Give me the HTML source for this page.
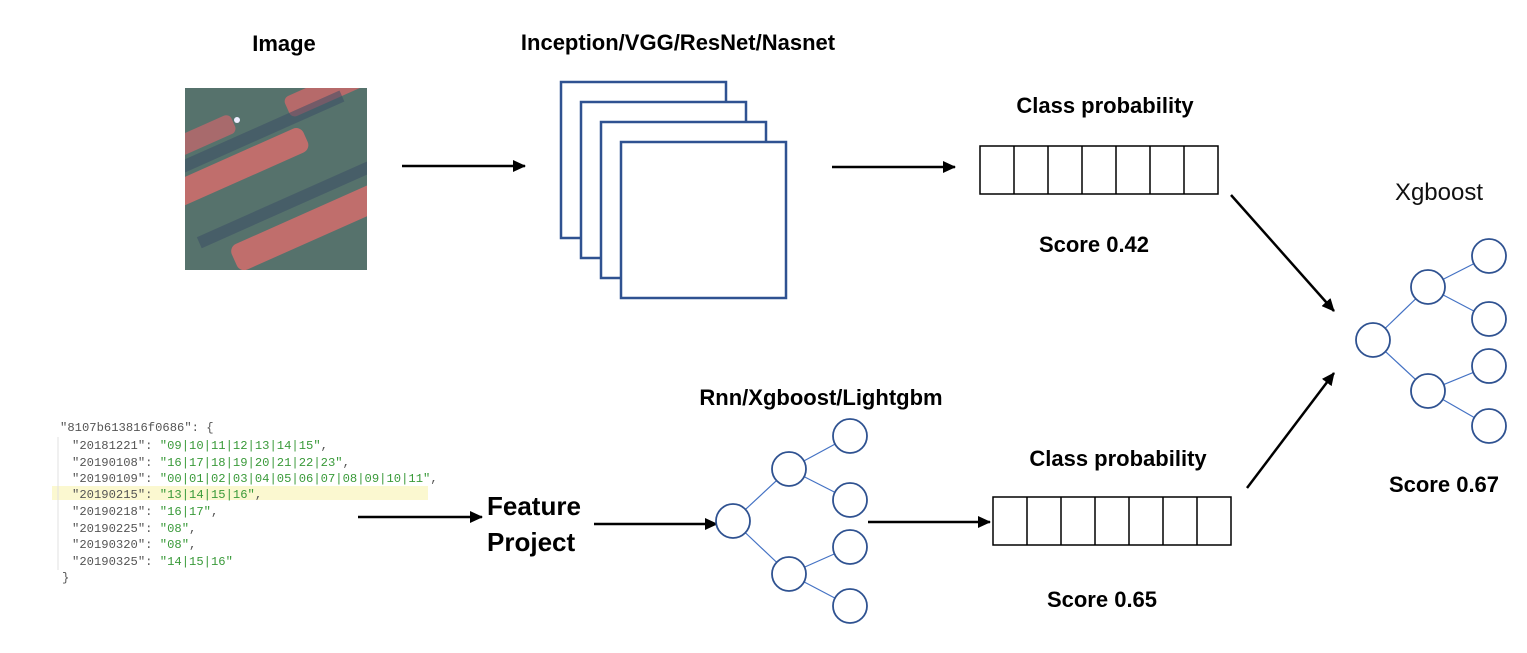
<!DOCTYPE html>
<html><head><meta charset="utf-8"><style>
html,body{margin:0;padding:0;background:#fff;}
svg{display:block;}
.b{font-family:"Liberation Sans",sans-serif;font-weight:bold;fill:#000;}
.m{font-family:"Liberation Mono",monospace;font-size:12.2px;}
</style></head><body>
<svg width="1527" height="653" viewBox="0 0 1527 653" xmlns="http://www.w3.org/2000/svg">
<defs>
<marker id="ah" markerWidth="13" markerHeight="12" refX="12" refY="6" orient="auto" markerUnits="userSpaceOnUse">
<path d="M0,0 L13,6 L0,12 z" fill="#000"/></marker>
<clipPath id="ic"><rect x="185" y="88" width="182" height="182"/></clipPath>
</defs>
<!-- image -->
<g clip-path="url(#ic)">
<rect x="185" y="88" width="182" height="182" fill="#56726c"/>
<g transform="rotate(-24 276 179)">
<rect x="150" y="100" width="110" height="20" fill="#a86a6c" rx="6"/>
<rect x="170" y="140" width="150" height="26" fill="#c06e6c" rx="8"/>
<rect x="315" y="108" width="80" height="22" fill="#b66a6a" rx="6"/>
<rect x="205" y="222" width="170" height="28" fill="#c06e6c" rx="8"/>
<rect x="150" y="124" width="220" height="12" fill="#3d4f66" opacity="0.55"/>
<rect x="180" y="200" width="220" height="12" fill="#3d4f66" opacity="0.55"/>
</g>
<circle cx="237" cy="120" r="3" fill="#eef"/>
</g>
<text class="b" x="284" y="51" font-size="22" text-anchor="middle">Image</text>
<text class="b" x="678" y="50" font-size="22" text-anchor="middle">Inception/VGG/ResNet/Nasnet</text>
<!-- stacked -->
<g fill="#fff" stroke="#2f5291" stroke-width="2.5">
<rect x="561" y="82" width="165" height="156"/>
<rect x="581" y="102" width="165" height="156"/>
<rect x="601" y="122" width="165" height="156"/>
<rect x="621" y="142" width="165" height="156"/>
</g>
<!-- arrows -->
<g stroke="#000" stroke-width="2.5" marker-end="url(#ah)">
<line x1="402" y1="166" x2="525" y2="166"/>
<line x1="832" y1="167" x2="955" y2="167"/>
<line x1="358" y1="517" x2="482" y2="517"/>
<line x1="594" y1="524" x2="717" y2="524"/>
<line x1="868" y1="522" x2="990" y2="522"/>
<line x1="1231" y1="195" x2="1334" y2="311"/>
<line x1="1247" y1="488" x2="1334" y2="373"/>
</g>
<!-- class prob top -->
<text class="b" x="1105" y="113" font-size="22" text-anchor="middle">Class probability</text>
<g fill="none" stroke="#000" stroke-width="1.5">
<rect x="980" y="146" width="238" height="48"/>
<line x1="1014" y1="146" x2="1014" y2="194"/><line x1="1048" y1="146" x2="1048" y2="194"/>
<line x1="1082" y1="146" x2="1082" y2="194"/><line x1="1116" y1="146" x2="1116" y2="194"/>
<line x1="1150" y1="146" x2="1150" y2="194"/><line x1="1184" y1="146" x2="1184" y2="194"/>
</g>
<text class="b" x="1094" y="252" font-size="22" text-anchor="middle">Score 0.42</text>
<!-- class prob bottom -->
<text class="b" x="1118" y="466" font-size="22" text-anchor="middle">Class probability</text>
<g fill="none" stroke="#000" stroke-width="1.5">
<rect x="993" y="497" width="238" height="48"/>
<line x1="1027" y1="497" x2="1027" y2="545"/><line x1="1061" y1="497" x2="1061" y2="545"/>
<line x1="1095" y1="497" x2="1095" y2="545"/><line x1="1129" y1="497" x2="1129" y2="545"/>
<line x1="1163" y1="497" x2="1163" y2="545"/><line x1="1197" y1="497" x2="1197" y2="545"/>
</g>
<text class="b" x="1102" y="607" font-size="22" text-anchor="middle">Score 0.65</text>
<!-- feature -->
<text class="b" x="487" y="515" font-size="26">Feature</text>
<text class="b" x="487" y="551" font-size="26">Project</text>
<text class="b" x="821" y="405" font-size="22" text-anchor="middle">Rnn/Xgboost/Lightgbm</text>
<!-- bottom tree -->
<g stroke="#4472c4" stroke-width="1.2">
<line x1="733" y1="521" x2="789" y2="469"/><line x1="733" y1="521" x2="789" y2="574"/>
<line x1="789" y1="469" x2="850" y2="436"/><line x1="789" y1="469" x2="850" y2="500"/>
<line x1="789" y1="574" x2="850" y2="547"/><line x1="789" y1="574" x2="850" y2="606"/>
</g>
<g fill="#fff" stroke="#2f5291" stroke-width="1.8">
<circle cx="733" cy="521" r="17"/><circle cx="789" cy="469" r="17"/><circle cx="789" cy="574" r="17"/>
<circle cx="850" cy="436" r="17"/><circle cx="850" cy="500" r="17"/><circle cx="850" cy="547" r="17"/><circle cx="850" cy="606" r="17"/>
</g>
<!-- right tree -->
<text x="1439" y="200" font-size="24" text-anchor="middle" font-family="Liberation Sans, sans-serif" fill="#111">Xgboost</text>
<g stroke="#4472c4" stroke-width="1.2">
<line x1="1373" y1="340" x2="1428" y2="287"/><line x1="1373" y1="340" x2="1428" y2="391"/>
<line x1="1428" y1="287" x2="1489" y2="256"/><line x1="1428" y1="287" x2="1489" y2="319"/>
<line x1="1428" y1="391" x2="1489" y2="366"/><line x1="1428" y1="391" x2="1489" y2="426"/>
</g>
<g fill="#fff" stroke="#2f5291" stroke-width="1.8">
<circle cx="1373" cy="340" r="17"/><circle cx="1428" cy="287" r="17"/><circle cx="1428" cy="391" r="17"/>
<circle cx="1489" cy="256" r="17"/><circle cx="1489" cy="319" r="17"/><circle cx="1489" cy="366" r="17"/><circle cx="1489" cy="426" r="17"/>
</g>
<text class="b" x="1444" y="492" font-size="22" text-anchor="middle">Score 0.67</text>
<!-- json -->
<rect x="52" y="486" width="376" height="14" fill="#fbf8d0"/>
<line x1="58" y1="437" x2="58" y2="570" stroke="#e0e0e0" stroke-width="1"/>
<g class="m" fill="#555">
<text x="60" y="431">"8107b613816f0686": {</text>
<text x="72" y="449">"20181221": <tspan fill="#3a9a3a">"09|10|11|12|13|14|15"</tspan>,</text>
<text x="72" y="466">"20190108": <tspan fill="#3a9a3a">"16|17|18|19|20|21|22|23"</tspan>,</text>
<text x="72" y="482">"20190109": <tspan fill="#3a9a3a">"00|01|02|03|04|05|06|07|08|09|10|11"</tspan>,</text>
<text x="72" y="498">"20190215": <tspan fill="#3a9a3a">"13|14|15|16"</tspan>,</text>
<text x="72" y="515">"20190218": <tspan fill="#3a9a3a">"16|17"</tspan>,</text>
<text x="72" y="532">"20190225": <tspan fill="#3a9a3a">"08"</tspan>,</text>
<text x="72" y="548">"20190320": <tspan fill="#3a9a3a">"08"</tspan>,</text>
<text x="72" y="565">"20190325": <tspan fill="#3a9a3a">"14|15|16"</tspan></text>
<text x="62" y="581">}</text>
</g>
</svg>
</body></html>
